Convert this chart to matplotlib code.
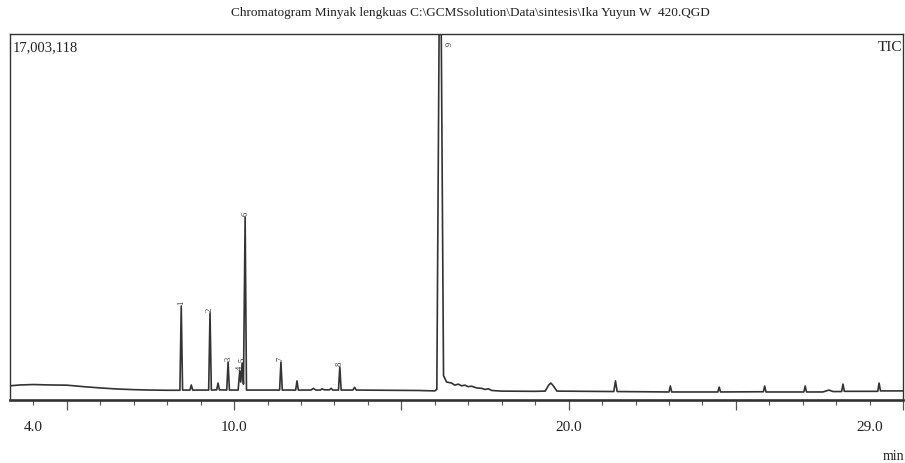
import matplotlib
matplotlib.use("Agg")
import matplotlib.pyplot as plt
from matplotlib.ticker import MultipleLocator, NullFormatter

# trace vertices (retention time in min, intensity in counts)
rt = [3.3, 3.6, 4.0, 4.5, 5.0, 5.5, 6.0, 6.5, 7.0, 7.5, 8.0, 8.38,
      8.42, 8.46, 8.68, 8.72, 8.76, 9.24, 9.28, 9.32, 9.48, 9.52, 9.56,
      9.78, 9.82, 9.86, 10.12, 10.17, 10.20, 10.24, 10.28, 10.33, 10.37,
      11.0, 11.36, 11.40, 11.44, 11.84, 11.88, 11.92, 12.30, 12.37, 12.44,
      12.58, 12.63, 12.70, 12.85, 12.90, 12.95, 13.12, 13.16, 13.20, 13.55,
      13.60, 13.65, 14.5, 15.5, 16.0, 16.06, 16.13, 16.19, 16.26, 16.35,
      16.5, 16.6, 16.7, 16.8, 16.9, 17.0, 17.1, 17.25, 17.4, 17.5, 17.6,
      17.7, 18.0, 19.0, 19.3, 19.4, 19.47, 19.55, 19.65, 21.35, 21.40,
      21.45, 23.0, 23.04, 23.08, 24.46, 24.50, 24.54, 25.82, 25.86, 25.90,
      27.03, 27.07, 27.11, 27.6, 27.78, 27.9, 28.16, 28.20, 28.24, 29.24,
      29.28, 29.32, 30.0]
counts = [0.42, 0.46, 0.48, 0.46, 0.45, 0.38, 0.32, 0.27, 0.24, 0.22, 0.21, 0.21,
          4.18, 0.22, 0.22, 0.46, 0.22, 0.22, 3.85, 0.22, 0.23, 0.55, 0.23,
          0.22, 1.54, 0.22, 0.22, 1.12, 0.60, 1.49, 0.50, 8.37, 0.22,
          0.22, 0.22, 1.54, 0.22, 0.22, 0.65, 0.22, 0.22, 0.30, 0.22,
          0.22, 0.28, 0.23, 0.23, 0.30, 0.22, 0.22, 1.30, 0.22, 0.22,
          0.35, 0.22, 0.21, 0.20, 0.18, 0.25, 17.6, 17.6, 0.90, 0.60,
          0.55, 0.45, 0.50, 0.42, 0.45, 0.38, 0.40, 0.32, 0.30, 0.25, 0.28,
          0.20, 0.17, 0.16, 0.17, 0.45, 0.55, 0.40, 0.17, 0.15, 0.65,
          0.15, 0.13, 0.41, 0.13, 0.13, 0.36, 0.13, 0.14, 0.41, 0.13,
          0.13, 0.41, 0.13, 0.13, 0.22, 0.15, 0.15, 0.50, 0.16, 0.16,
          0.55, 0.18, 0.18]
counts = [c * 1e6 for c in counts]

# numbered peaks
peak_rt = [8.42, 9.28, 9.82, 10.17, 10.24, 10.33, 11.40, 13.16, 16.46]
peak_top = [4.18, 3.85, 1.54, 1.12, 1.49, 8.37, 1.54, 1.30, 16.4]
peak_top = [p * 1e6 for p in peak_top]
peak_lbl = ["1", "2", "3", "4", "5", "6", "7", "8", "9"]

xlabels = [4.0, 10.0, 20.0, 29.0]
full_scale = 17003118

plt.rcParams['font.family'] = ['Liberation Serif', 'DejaVu Serif']

fig = plt.figure(figsize=(9.05, 4.63), dpi=100)
ax = fig.add_axes([0.011, 0.136, 0.987, 0.791])

ax.plot(rt, counts, color='#333333', lw=1.2)
for t, h, s in zip(peak_rt, peak_top, peak_lbl):
    ax.text(t, h + 0.05e6, s, rotation=90, fontsize=6, ha='center', va='bottom',
            color='#333333')

ax.set_xlim(3.3, 30.0)
ax.set_ylim(-0.25e6, full_scale)
ax.set_yticks([])
ax.xaxis.set_major_locator(MultipleLocator(5))
ax.xaxis.set_minor_locator(MultipleLocator(1))
ax.xaxis.set_major_formatter(NullFormatter())
ax.tick_params(axis='x', which='major', length=7.5, width=0.9, color='#555555')
ax.tick_params(axis='x', which='minor', length=3.5, width=0.8, color='#555555')
for side in ['left', 'right', 'top']:
    ax.spines[side].set_linewidth(1.0)
    ax.spines[side].set_color('#333333')
ax.spines['bottom'].set_linewidth(1.9)
ax.spines['bottom'].set_color('#333333')

for v in xlabels:
    ax.text(v, -0.075, f"{v:.1f}", transform=ax.get_xaxis_transform(),
            ha='center', va='center', fontsize=11, color='#222222')

ax.text(0.003, 0.963, f"{full_scale:,}", transform=ax.transAxes,
        ha='left', va='center', fontsize=10.5, color='#222222')
ax.text(0.999, 0.963, "TIC", transform=ax.transAxes,
        ha='right', va='center', fontsize=11, color='#222222')
fig.text(893 / 905, 0.013, "min", ha='center', va='center',
         fontsize=10, color='#222222')

fig.text(470 / 905, 0.972,
         "Chromatogram Minyak lengkuas C:\\GCMSsolution\\Data\\sintesis\\Ika Yuyun W  420.QGD",
         ha='center', va='center', fontsize=9.5, color='#222222')

fig.savefig("out.png", dpi=100)
